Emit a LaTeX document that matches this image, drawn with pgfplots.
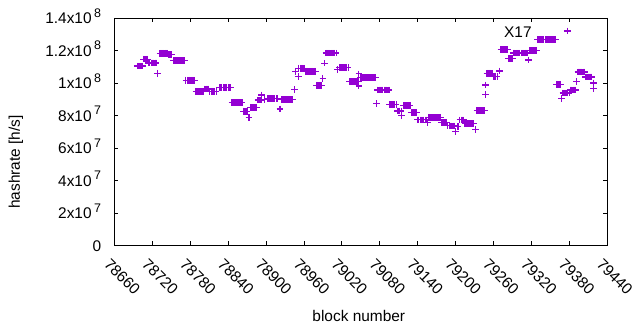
\documentclass[border=0pt]{standalone}
\usepackage{fontspec}
\setmainfont{Liberation Sans}
\usepackage{pgfplots}
\usepackage{pgfplotstable}
\pgfplotsset{compat=1.18}
\definecolor{gpviolet}{RGB}{148,0,211}
\newcommand{\sci}[2]{#1x10\,\raisebox{0.42em}{\fontsize{12.5}{12.5}\selectfont #2}}
\pgfplotstableread{
b v
78696 11.04
78698 11.04
78700 11.04
78702 11.04
78704 11.04
78706 11.47
78708 11.47
78710 11.47
78712 11.47
78714 11.23
78716 11.23
78718 11.23
78720 11.23
78722 11.23
78724 11.23
78726 11.23
78728 10.60
78732 11.83
78734 11.83
78736 11.83
78738 11.83
78740 11.83
78742 11.83
78744 11.83
78746 11.75
78748 11.75
78750 11.75
78753 11.39
78755 11.39
78757 11.39
78759 11.39
78761 11.39
78763 11.39
78765 11.39
78767 11.39
78769 11.39
78771 11.39
78773 10.17
78775 10.17
78777 10.17
78779 10.17
78781 10.17
78783 10.17
78785 10.17
78787 10.17
78789 9.46
78791 9.46
78793 9.46
78795 9.46
78797 9.46
78799 9.46
78801 9.46
78803 9.63
78805 9.63
78807 9.63
78809 9.63
78811 9.49
78813 9.49
78815 9.49
78817 9.49
78819 9.49
78821 9.49
78826 9.73
78828 9.73
78830 9.73
78832 9.73
78834 9.73
78836 9.73
78838 9.73
78840 9.73
78842 9.73
78844 9.73
78846 8.79
78848 8.79
78850 8.79
78852 8.79
78854 8.79
78856 8.79
78858 8.79
78860 8.79
78862 8.79
78864 8.25
78866 8.25
78868 8.25
78870 8.25
78873 7.88
78875 8.50
78877 8.50
78879 8.50
78881 8.50
78883 8.50
78885 8.50
78887 8.95
78889 8.95
78891 8.95
78893 8.95
78893 9.26
78898 9.00
78902 9.03
78904 9.03
78906 9.03
78908 9.03
78910 9.03
78912 9.03
78914 9.03
78916 9.03
78918 9.03
78922 8.40
78924 8.99
78926 8.99
78928 8.99
78930 8.99
78932 8.99
78934 8.99
78936 8.99
78938 8.99
78940 8.99
78942 8.99
78945 9.61
78947 10.72
78951 10.41
78952 10.91
78954 10.91
78956 10.91
78958 10.91
78960 10.91
78962 10.72
78964 10.72
78966 10.72
78968 10.72
78970 10.72
78972 10.72
78974 10.72
78976 10.72
78978 10.72
78980 9.86
78982 9.86
78984 9.86
78986 9.86
78988 9.86
78990 10.29
78993 11.22
78995 11.84
78997 11.84
78999 11.84
79001 11.84
79003 11.84
79005 11.84
79007 11.84
79009 11.84
79011 11.84
79013 10.82
79016 10.96
79018 10.96
79020 10.96
79022 10.96
79024 10.96
79026 10.96
79028 10.96
79030 10.96
79032 10.10
79034 10.10
79036 10.10
79038 10.10
79040 10.10
79042 10.10
79044 10.10
79046 10.10
79047 9.81
79047 10.56
79049 10.35
79051 10.35
79053 10.35
79055 10.35
79057 10.35
79059 10.35
79061 10.35
79063 10.35
79065 10.35
79067 10.35
79069 10.35
79071 10.35
79073 10.35
79075 8.74
79077 9.57
79079 9.57
79081 9.57
79083 9.57
79085 9.57
79087 9.57
79089 9.57
79091 9.57
79093 9.57
79095 9.57
79096 8.66
79098 8.66
79100 8.66
79102 8.66
79104 8.66
79106 8.66
79108 8.28
79110 8.28
79112 8.28
79114 8.28
79115 7.98
79118 8.62
79120 8.62
79122 8.62
79124 8.62
79126 8.62
79128 8.62
79130 8.19
79132 8.19
79134 8.19
79136 8.19
79138 8.19
79140 7.73
79142 7.73
79144 7.73
79146 7.73
79148 7.73
79150 7.73
79152 7.73
79154 7.73
79156 7.57
79158 7.88
79160 7.88
79162 7.88
79164 7.88
79166 7.88
79168 7.88
79170 7.88
79172 7.88
79174 7.88
79176 7.88
79178 7.57
79180 7.57
79182 7.57
79184 7.57
79186 7.57
79188 7.36
79190 7.36
79192 7.36
79194 7.36
79196 7.36
79198 7.36
79200 7.03
79204 7.32
79207 7.73
79209 7.73
79211 7.73
79213 7.73
79215 7.50
79217 7.50
79219 7.50
79221 7.50
79223 7.50
79225 7.50
79227 7.50
79229 7.50
79232 7.12
79234 8.31
79236 8.31
79238 8.31
79240 8.31
79242 8.31
79244 8.31
79246 8.31
79248 9.88
79248 9.30
79250 10.60
79252 10.60
79254 10.60
79256 10.60
79258 10.60
79260 10.40
79262 10.40
79264 10.40
79266 10.40
79270 10.74
79272 12.06
79274 12.06
79276 12.06
79278 12.06
79280 12.06
79282 12.06
79284 11.49
79286 11.49
79288 11.49
79290 11.49
79292 11.84
79294 11.84
79296 11.84
79298 11.84
79300 11.84
79302 11.84
79304 11.84
79306 11.84
79308 11.84
79310 11.84
79312 11.84
79314 11.84
79316 11.42
79318 12.00
79320 12.00
79322 12.00
79324 12.00
79326 12.00
79328 12.00
79330 12.68
79332 12.68
79334 12.68
79336 12.68
79338 12.68
79340 12.68
79342 12.68
79344 12.68
79346 12.68
79348 12.68
79350 12.68
79352 12.68
79354 12.68
79356 12.68
79358 12.68
79360 9.92
79362 9.92
79364 9.92
79366 9.92
79368 9.05
79370 9.38
79372 9.38
79374 9.38
79376 9.38
79378 9.38
79380 9.38
79377 13.20
79382 9.57
79384 9.57
79386 9.57
79388 9.57
79390 9.57
79392 10.08
79394 10.68
79396 10.68
79398 10.68
79400 10.68
79402 10.68
79404 10.68
79406 10.37
79408 10.37
79410 10.37
79412 10.37
79414 10.37
79416 10.37
79419 10.00
79419 9.65
}\hashdata

\begin{document}
\fontsize{15.5}{18}\selectfont
\begin{tikzpicture}
\begin{axis}[
  at={(114.5bp,84.5bp)}, anchor=south west,
  scale only axis, width=492.5bp, height=227.5bp,
  xmin=78660, xmax=79440, ymin=0, ymax=14,
  scaled x ticks=false, scaled y ticks=false,
  xtick={78660,78720,78780,78840,78900,78960,79020,79080,79140,79200,79260,79320,79380,79440},
  xticklabels={78660,78720,78780,78840,78900,78960,79020,79080,79140,79200,79260,79320,79380,79440},
  ytick={0,2,4,6,8,10,12,14},
  yticklabels={0,\sci{2}{7},\sci{4}{7},\sci{6}{7},\sci{8}{7},\sci{1}{8},\sci{1.2}{8},\sci{1.4}{8}},
  tick align=inside, major tick length=4bp,
  tick style={black, line width=0.8bp},
  axis line style={black, line width=0.8bp},
  xticklabel style={rotate=-45, anchor=north west, xshift=1bp, yshift=-6bp, font=\fontsize{15.5}{18}\selectfont},
  yticklabel style={anchor=base east, yshift=-0.36em, xshift=-8bp, font=\fontsize{15.5}{18}\selectfont},
  xlabel={block number}, ylabel={hashrate [h/s]},
  label style={font=\fontsize{15.5}{18}\selectfont},
  xlabel style={at={(axis description cs:0.496,-0.31)}, anchor=center},
  ylabel style={at={(axis description cs:-0.2,0.367)}, anchor=center},
]
\addplot[only marks, mark=+, mark size=3.3bp, color=gpviolet, mark options={line width=1.2bp}] table[x=b, y=v] {\hashdata};
\node[font=\fontsize{15.5}{18}\selectfont] at (axis description cs:0.819,0.938) {X17};
\end{axis}
\pgfresetboundingbox
\useasboundingbox (0,0) rectangle (640bp,330bp);
\end{tikzpicture}
\end{document}
